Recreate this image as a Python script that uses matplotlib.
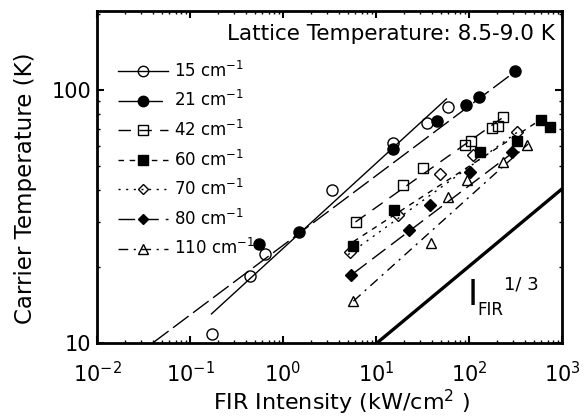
import matplotlib
matplotlib.use("Agg")
import matplotlib.pyplot as plt
from matplotlib.lines import Line2D
from matplotlib.ticker import LogLocator, FixedLocator, FixedFormatter, NullFormatter
import matplotlib.transforms as mtrans

# measured points (FIR intensity kW/cm2, carrier temperature K)
I15 = [0.174, 0.445, 0.64, 3.34, 15.3, 35.1, 59.0]
T15 = [10.8, 18.3, 22.4, 40.3, 61.6, 73.8, 85.3]
I21 = [0.548, 1.50, 15.3, 45.6, 92.2, 129, 312]
T21 = [24.5, 27.4, 58.1, 75.2, 87.3, 93.5, 118.4]
I42 = [6.05, 19.7, 32.3, 90.6, 104, 175, 207, 234]
T42 = [30.0, 42.2, 49.2, 60.7, 62.5, 70.8, 71.6, 77.9]
I60 = [5.70, 15.7, 131, 326, 590, 743]
T60 = [24.1, 33.4, 56.6, 62.7, 75.7, 71.2]
I70 = [5.25, 17.4, 48.8, 111, 326]
T70 = [22.9, 31.9, 46.3, 55.0, 68.0]
I80 = [5.35, 22.6, 38.1, 103, 292]
T80 = [18.5, 28.0, 34.9, 47.3, 56.6]
I110 = [5.70, 38.7, 59.9, 94.4, 234, 424]
T110 = [14.6, 24.7, 37.7, 43.9, 51.8, 60.7]

# fitted lines, end points
fit15_I, fit15_T = [0.17, 57], [13.0, 92]
fit21_I, fit21_T = [0.040, 312], [10.0, 118]
fit42_I, fit42_T = [6.0, 240], [30.0, 78.5]
fit60_I, fit60_T = [5.7, 535], [25.1, 74.5]
fit70_I, fit70_T = [5.0, 330], [22.3, 68.0]
fit80_I, fit80_T = [5.7, 300], [18.8, 56.7]
fit110_I, fit110_T = [5.7, 430], [14.6, 61.0]
# I^(1/3) guide line
guide_I, guide_T = [10.3, 1000], [10.0, 40.6]

labels = ["15 cm$^{-1}$", "21 cm$^{-1}$", "42 cm$^{-1}$", "60 cm$^{-1}$",
          "70 cm$^{-1}$", "80 cm$^{-1}$", "110 cm$^{-1}$"]

series = [
    (I15, T15, fit15_I, fit15_T, "o", "none", "-", 8),
    (I21, T21, fit21_I, fit21_T, "o", "black", (0, (14, 4)), 8),
    (I42, T42, fit42_I, fit42_T, "s", "none", (0, (9, 6)), 7.5),
    (I60, T60, fit60_I, fit60_T, "s", "black", (0, (4, 4)), 7.5),
    (I70, T70, fit70_I, fit70_T, "D", "none", (0, (1.5, 4)), 6),
    (I80, T80, fit80_I, fit80_T, "D", "black", (0, (12, 5)), 6),
    (I110, T110, fit110_I, fit110_T, "^", "none", (0, (7, 4, 1.5, 4)), 7),
]

fig = plt.figure(figsize=(5.88, 4.2), dpi=100)
ax = fig.add_axes([0.165, 0.184, 0.791, 0.79])

handles = []
for (xs, ys, fx, fy, mk, fc, ls, ms), lab in zip(series, labels):
    ax.plot(fx, fy, color="black", lw=1.0, ls=ls)
    ax.plot(xs, ys, ls="none", marker=mk, ms=ms, mfc=fc, mec="black", mew=1.0)
    handles.append(Line2D([], [], color="black", lw=1.0, ls=ls, marker=mk,
                          ms=ms - 0.5, mfc=fc, mec="black", mew=1.0))

ax.plot(guide_I, guide_T, color="black", lw=2.4)

ax.set_xscale("log")
ax.set_yscale("log")
ax.set_xlim(1e-2, 1e3)
ax.set_ylim(10, 205)

ax.xaxis.set_major_locator(LogLocator(base=10, numticks=10))
ax.xaxis.set_minor_locator(LogLocator(base=10, subs=range(2, 10), numticks=20))
ax.xaxis.set_minor_formatter(NullFormatter())
ax.yaxis.set_major_locator(FixedLocator([10, 100]))
ax.yaxis.set_major_formatter(FixedFormatter(["10", "100"]))
ax.yaxis.set_minor_locator(LogLocator(base=10, subs=range(2, 10), numticks=20))
ax.yaxis.set_minor_formatter(NullFormatter())

ax.tick_params(which="both", direction="in", top=True, right=True, color="black")
ax.tick_params(which="major", length=5, width=1.5, labelsize=15)
ax.tick_params(axis="x", which="major", pad=13)
ax.tick_params(axis="y", which="major", pad=4)
ax.tick_params(which="minor", length=2.5, width=1.0)
for sp in ax.spines.values():
    sp.set_linewidth(2.0)

ax.set_xlabel("FIR Intensity (kW/cm$^2$ )", fontsize=16)
ax.set_ylabel("Carrier Temperature (K)", fontsize=16.5)
ax.xaxis.set_label_coords(0.525, -0.135)
ax.yaxis.set_label_coords(-0.13, 0.465)

ax.text(0.985, 0.93, "Lattice Temperature: 8.5-9.0 K", transform=ax.transAxes,
        ha="right", va="center", fontsize=15.5)

# I_FIR^1/3 label
ax.text(97, 14.1, "I", fontsize=25, ha="left", va="baseline")
sub = mtrans.offset_copy(ax.transData, fig=fig, x=7, y=-7, units="points")
ax.text(97, 14.1, "FIR", fontsize=12, transform=sub, ha="left", va="baseline")
sup = mtrans.offset_copy(ax.transData, fig=fig, x=26, y=11, units="points")
ax.text(97, 14.1, "1/ 3", fontsize=13, transform=sup, ha="left", va="baseline")

ax.legend(handles, labels, loc="upper left", bbox_to_anchor=(0.02, 0.885),
          frameon=False, fontsize=12, handlelength=3.0, handletextpad=0.35,
          labelspacing=0.57, borderaxespad=0.3)

plt.savefig("out.png", dpi=100)
